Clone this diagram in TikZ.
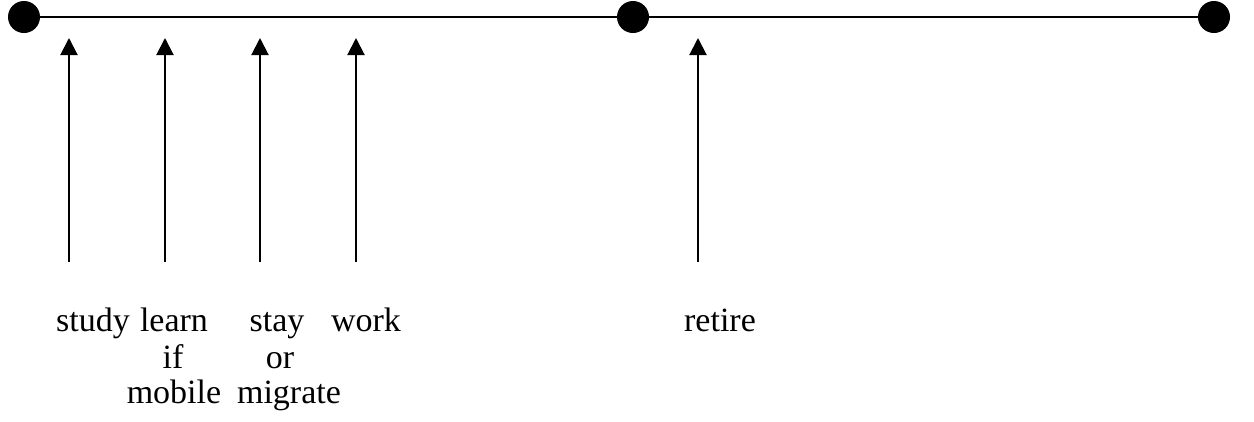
\documentclass[tikz,border=0pt]{standalone}
\usepackage{fontspec}
\setmainfont{Liberation Serif}
\usetikzlibrary{arrows.meta}
\begin{document}
\begin{tikzpicture}[x=1pt,y=-1pt,
  dotnode/.style={circle,fill=black,inner sep=0pt,minimum size=32pt},
  timeline/.style={line width=2pt},
  evarrow/.style={line width=2pt,-{Triangle[length=17pt,width=17pt]}},
  lbl/.style={anchor=base,inner sep=0pt,font=\fontsize{34}{38}\selectfont}]
\useasboundingbox (0,0) rectangle (1254,421);
\node[dotnode] (d1) at (24,17) {};
\node[dotnode] (d2) at (633,17) {};
\node[dotnode] (d3) at (1214,17) {};
\draw[timeline] (d1) -- (d2) -- (d3);
\foreach \n/\x in {a1/69,a2/165,a3/260,a4/356,a5/698}{
  \coordinate (\n s) at (\x,262);
  \coordinate (\n e) at (\x,38);
  \draw[evarrow] (\n s) -- (\n e);
}
\node[lbl] (study) at (93,331) {study};
\node[lbl] (learn) at (174,331) {learn};
\node[lbl] (if) at (173,368) {if};
\node[lbl] (mobile) at (174,403) {mobile};
\node[lbl] (stay) at (277,331) {stay};
\node[lbl] (or) at (280,368) {or};
\node[lbl] (migrate) at (289,403) {migrate};
\node[lbl] (work) at (366,331) {work};
\node[lbl] (retire) at (720,331) {retire};
\end{tikzpicture}
\end{document}
